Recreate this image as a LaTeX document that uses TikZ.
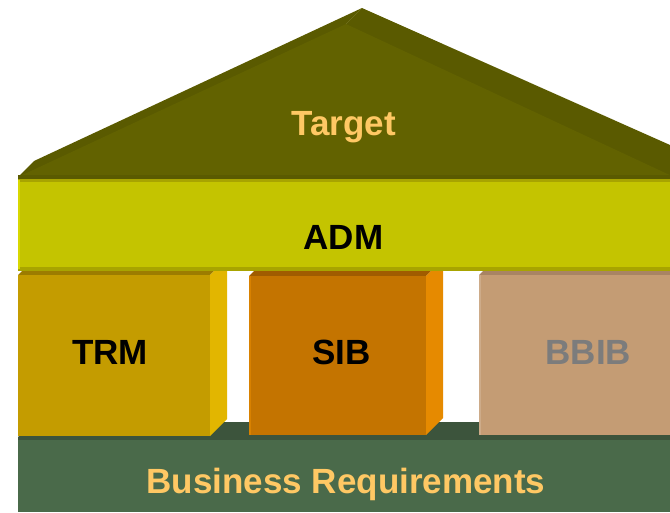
\documentclass[tikz,border=0pt]{standalone}
\usepackage{fontspec}
\setmainfont{Liberation Sans}
\definecolor{roofback}{HTML}{5A5A00}
\definecolor{rooffront}{HTML}{626200}
\definecolor{admfront}{HTML}{C4C400}
\definecolor{admedge}{HTML}{A8A400}
\definecolor{admlight}{HTML}{D8D800}
\definecolor{trmfront}{HTML}{C49C00}
\definecolor{trmtop}{HTML}{9C7C00}
\definecolor{trmside}{HTML}{E2B600}
\definecolor{sibfront}{HTML}{C47400}
\definecolor{sibtop}{HTML}{A05C00}
\definecolor{sibside}{HTML}{E68A00}
\definecolor{bbibfront}{HTML}{C49C74}
\definecolor{bbibtop}{HTML}{A88464}
\definecolor{bbibtext}{HTML}{7C7C7C}
\definecolor{basefront}{HTML}{4A6A4A}
\definecolor{baseshelf}{HTML}{3C543C}
\definecolor{goldtext}{HTML}{FFC864}
\begin{document}
\begin{tikzpicture}[x=1pt,y=-1pt,
  lbl/.style={font=\fontsize{35}{42}\selectfont\bfseries, inner sep=0pt, anchor=base}]
\useasboundingbox (0,0) rectangle (670,512);
\clip (0,0) rectangle (670,512);
% base
\fill[baseshelf] (18,437) -- (33,422) -- (700,422) -- (700,437) -- cycle;
\fill[basefront] (18,437) rectangle (700,512);
\fill[baseshelf] (18,437) rectangle (700,440);
% TRM pillar
\fill[trmtop] (18,275) -- (35,258) -- (227,258) -- (210,275) -- cycle;
\fill[trmside] (210,275) -- (227,258) -- (227,419) -- (210,436) -- cycle;
\fill[trmfront] (18,275) rectangle (210,436);
% SIB pillar
\fill[sibtop] (249,276) -- (266,259) -- (443,259) -- (426,276) -- cycle;
\fill[sibside] (426,276) -- (443,259) -- (443,418) -- (426,435) -- cycle;
\fill[sibfront] (249,276) rectangle (426,435);
\fill[sibside!60!sibfront] (249,276) rectangle (250.5,435);
% BBIB pillar
\fill[bbibtop] (479,275) -- (496,258) -- (700,258) -- (700,275) -- cycle;
\fill[bbibfront] (479,275) rectangle (700,435);
\fill[bbibfront!85!white] (479,275) rectangle (480.5,435);
% ADM band
\fill[admfront] (18,178) rectangle (700,271);
\fill[admedge] (18,178) rectangle (700,182);
\fill[admedge] (18,267) rectangle (700,271);
\fill[admlight] (18,180) rectangle (20,269);
% roof
\fill[roofback] (18,177) -- (34,161) -- (362,8) -- (706,161) -- (674,177) -- cycle;
\fill[rooffront] (18,177) -- (346,24) -- (674,177) -- cycle;
\draw[rooffront!80!white, line width=0.3pt] (346,24) -- (362,8);
\fill[roofback] (18,175) rectangle (700,179);
% labels
\node[lbl, text=goldtext] (target) at (343.5,135) {Target};
\node[lbl, text=black] (adm) at (343.5,249) {ADM};
\node[lbl, text=black] (trm) at (110,364) {TRM};
\node[lbl, text=black] (sib) at (341.5,364) {SIB};
\node[lbl, text=bbibtext] (bbib) at (588.5,364) {BBIB};
\node[lbl, text=goldtext] (busreq) at (346,493) {Business Requirements};
\end{tikzpicture}
\end{document}
